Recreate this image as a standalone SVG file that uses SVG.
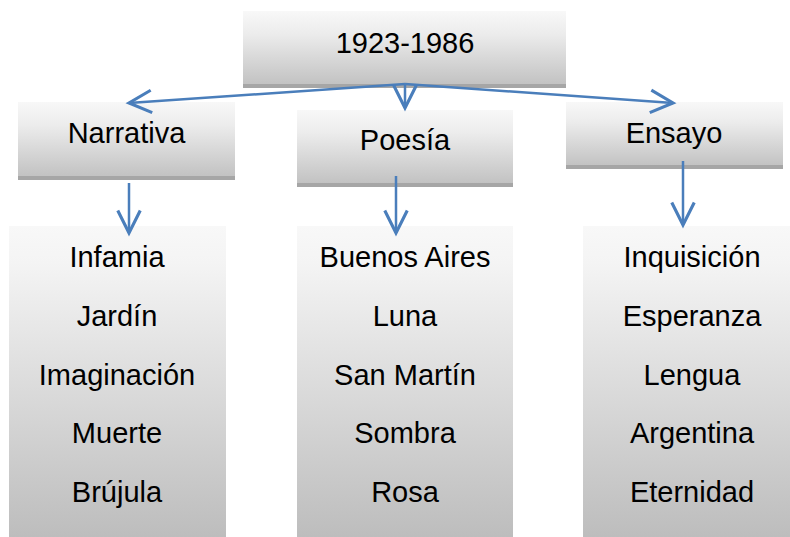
<svg xmlns="http://www.w3.org/2000/svg" width="790" height="537" viewBox="0 0 790 537">
<defs>
<linearGradient id="g" x1="0" y1="0" x2="0" y2="1">
<stop offset="0" stop-color="#f8f8f8"/>
<stop offset="0.3" stop-color="#ececec"/>
<stop offset="1" stop-color="#bfbfbf"/>
</linearGradient>
<linearGradient id="gl" x1="0" y1="0" x2="0" y2="1">
<stop offset="0" stop-color="#f8f8f8"/>
<stop offset="0.12" stop-color="#f4f4f4"/>
<stop offset="1" stop-color="#bdbdbd"/>
</linearGradient>
<marker id="ah" markerUnits="userSpaceOnUse" markerWidth="30" markerHeight="30" viewBox="-20 -12 24 24" refX="0" refY="0" orient="auto">
<path d="M-18,-9 L0,0 L-18,9" fill="none" stroke="#4a7ebb" stroke-width="2.5"/>
</marker>
<style>
.box{fill:url(#g)}
.band{fill:#a6a6a6}
.list{fill:url(#gl)}
.t{font-family:"Liberation Sans",Arial,sans-serif;font-size:29px;fill:#000;text-anchor:middle}
.c{stroke:#4a7ebb;stroke-width:2.5;fill:none;marker-end:url(#ah)}
</style>
</defs>
<g id="top">
<rect class="box" x="243" y="11" width="323" height="77"/>
<rect class="band" x="243" y="84" width="323" height="4"/>
<text class="t" x="405" y="53">1923-1986</text>
</g>
<g id="narrativa">
<rect class="box" x="18" y="102" width="217" height="78"/>
<rect class="band" x="18" y="176" width="217" height="4"/>
<text class="t" x="126.5" y="143">Narrativa</text>
</g>
<g id="poesia">
<rect class="box" x="297" y="110" width="216" height="77"/>
<rect class="band" x="297" y="183" width="216" height="4"/>
<text class="t" x="405" y="150">Poesía</text>
</g>
<g id="ensayo">
<rect class="box" x="566" y="102" width="217" height="67"/>
<rect class="band" x="566" y="165" width="217" height="4"/>
<text class="t" x="674" y="143">Ensayo</text>
</g>
<g id="narrativa-list">
<rect class="list" x="9" y="226" width="217" height="311"/>
<text class="t" x="117" y="267">Infamia</text>
<text class="t" x="117" y="326">Jardín</text>
<text class="t" x="117" y="385">Imaginación</text>
<text class="t" x="117" y="443">Muerte</text>
<text class="t" x="117" y="502">Brújula</text>
</g>
<g id="poesia-list">
<rect class="list" x="297" y="226" width="216" height="311"/>
<text class="t" x="405" y="267">Buenos Aires</text>
<text class="t" x="405" y="326">Luna</text>
<text class="t" x="405" y="385">San Martín</text>
<text class="t" x="405" y="443">Sombra</text>
<text class="t" x="405" y="502">Rosa</text>
</g>
<g id="ensayo-list">
<rect class="list" x="583" y="226" width="218" height="311"/>
<text class="t" x="692" y="267">Inquisición</text>
<text class="t" x="692" y="326">Esperanza</text>
<text class="t" x="692" y="385">Lengua</text>
<text class="t" x="692" y="443">Argentina</text>
<text class="t" x="692" y="502">Eternidad</text>
</g>
<g id="connectors">
<path class="c" d="M405,84 L129,103"/>
<path class="c" d="M405,84 L405,108"/>
<path class="c" d="M405,84 L673,103"/>
<path class="c" d="M129,183 L129,233"/>
<path class="c" d="M396,176 L396,233"/>
<path class="c" d="M683,161 L683,225"/>
</g>
</svg>
